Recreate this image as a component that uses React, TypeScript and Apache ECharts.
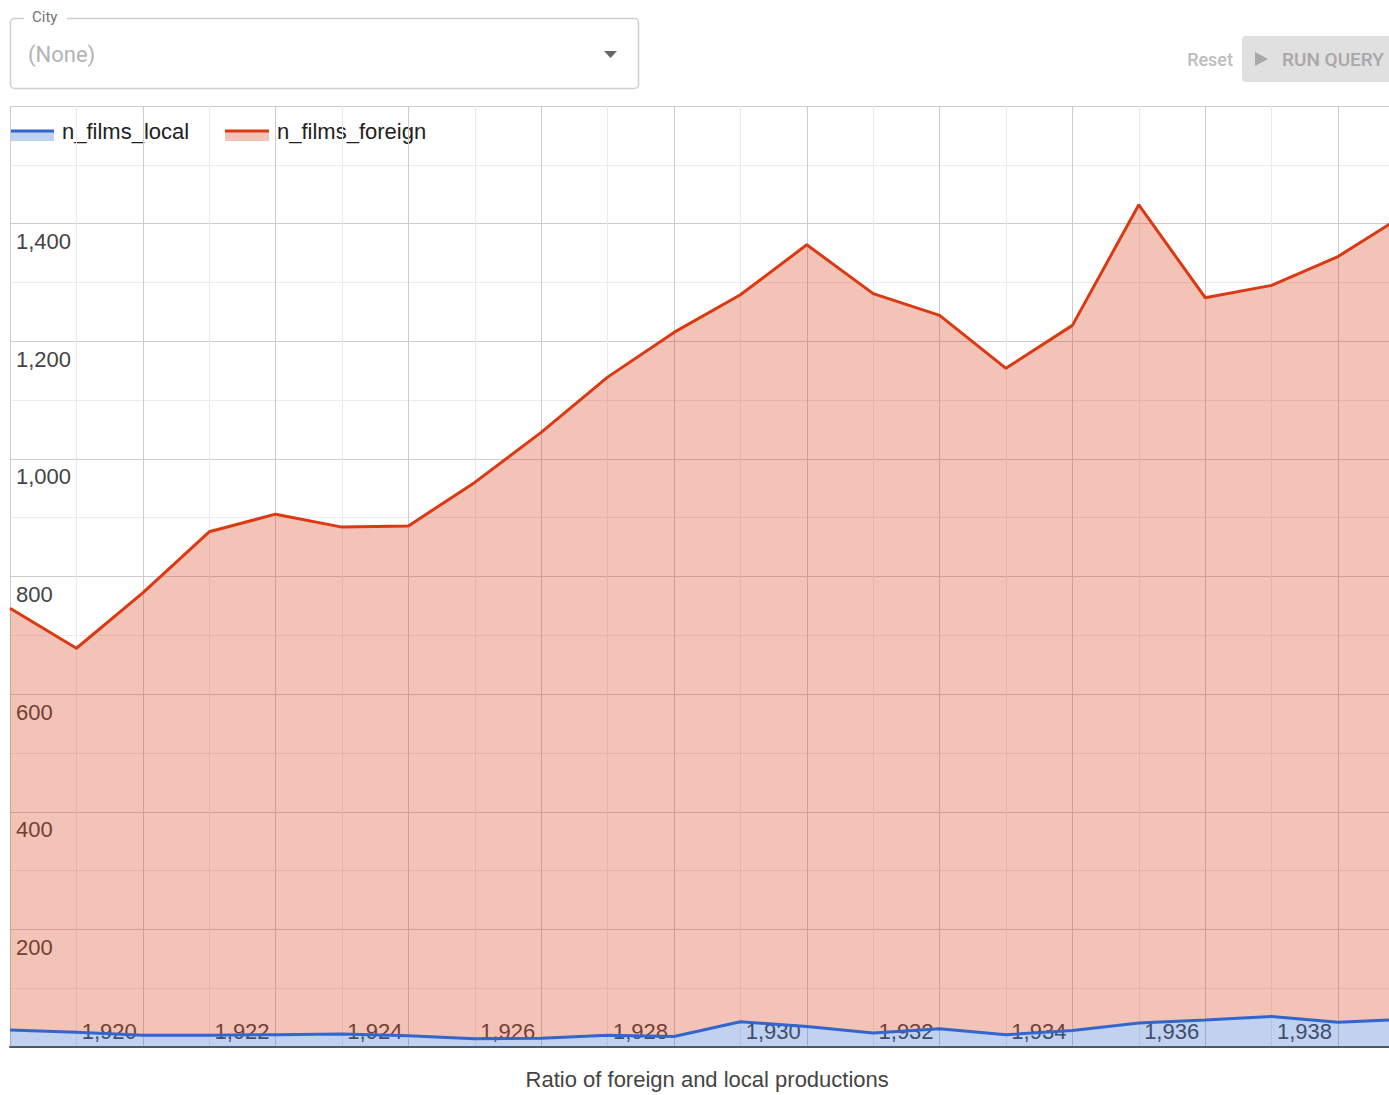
import React, { useEffect, useRef } from "react";
import * as echarts from "echarts";

const years = [1918, 1919, 1920, 1921, 1922, 1923, 1924, 1925, 1926, 1927, 1928, 1929, 1930, 1931, 1932, 1933, 1934, 1935, 1936, 1937, 1938, 1939];
const localFilms = [29, 25, 20, 20, 21, 22, 19, 14, 15, 20, 18, 43, 35, 24, 31, 21, 28, 41, 46, 52, 42, 47];
const foreignFilms = [717, 653, 752, 856, 885, 862, 867, 946, 1030, 1119, 1197, 1236, 1329, 1257, 1213, 1133, 1199, 1391, 1228, 1243, 1302, 1368];
const seriesNames = ["n_films_local", "n_films_foreign"];
const seriesColors = ["#3366cc", "#dc3912"];
const yTickLabels = [200, 400, 600, 800, 1000, 1200, 1400];
const xTickLabels = [1920, 1922, 1924, 1926, 1928, 1930, 1932, 1934, 1936, 1938];
const chartTitle = "Ratio of foreign and local productions";
const cityLabel = "City";
const cityValue = "(None)";
const resetLabel = "Reset";
const runLabel = "RUN QUERY";

const fmt = (v: number) => String(v).replace(/\B(?=(\d{3})+(?!\d))/g, ",");
const FONT = "'Liberation Sans', Arial, sans-serif";
const UI_FONT = "Roboto, 'Liberation Sans', sans-serif";

function hexToRgba(hex: string, a: number) {
  const n = parseInt(hex.slice(1), 16);
  return `rgba(${(n >> 16) & 255},${(n >> 8) & 255},${n & 255},${a})`;
}

export default function App() {
  const ref = useRef<HTMLDivElement>(null);
  useEffect(() => {
    if (!ref.current) return;
    const chart = echarts.init(ref.current, undefined, { renderer: "svg" });
    const labelStyle = {
      fontFamily: FONT,
      fontSize: 22,
      color: "#444",
      textBorderColor: "#ffffff",
      textBorderWidth: 3,
    };
    const legendItems: any[] = [];
    const legendX = [10, 225];
    seriesNames.forEach((name, i) => {
      const x = legendX[i];
      legendItems.push(
        { type: "rect", shape: { x, y: 131, width: 44, height: 10 }, style: { fill: hexToRgba(seriesColors[i], 0.3) } },
        { type: "line", shape: { x1: x, y1: 131, x2: x + 44, y2: 131 }, style: { stroke: seriesColors[i], lineWidth: 3 } },
        { type: "text", x: x + 52, y: 131, style: { text: name, fill: "#222", font: `22px ${FONT}`, verticalAlign: "middle" } }
      );
    });
    chart.setOption({
      animation: false,
      grid: { left: 10, top: 106, width: 1394.4, height: 943, containLabel: false },
      xAxis: {
        type: "category",
        boundaryGap: false,
        data: years.map(String),
        name: chartTitle,
        nameLocation: "middle",
        nameGap: 32,
        nameTextStyle: { fontFamily: FONT, fontSize: 22, color: "#444", verticalAlign: "middle" },
        axisLine: { show: true, onZero: true, lineStyle: { color: "#555", width: 2 } },
        axisTick: { show: false },
        axisLabel: {
          interval: 0,
          inside: true,
          margin: 16,
          verticalAlign: "middle",
          align: "right",
          padding: [0, 6, 0, 0],
          formatter: (v: string) => (xTickLabels.includes(Number(v)) ? fmt(Number(v)) : ""),
          ...labelStyle,
        },
        splitLine: { show: true, interval: 0, lineStyle: { color: ["#cccccc", "#ebebeb"], width: 1 } },
      },
      yAxis: {
        type: "value",
        min: 0,
        max: 1600,
        interval: 100,
        axisLine: { show: false },
        axisTick: { show: false },
        axisLabel: {
          inside: true,
          margin: 6,
          align: "left",
          verticalAlign: "top",
          lineHeight: 22,
          padding: [7, 0, 0, 0],
          showMinLabel: false,
          showMaxLabel: false,
          formatter: (v: number) => (yTickLabels.includes(v) ? fmt(v) : ""),
          ...labelStyle,
        },
        splitLine: { show: true, lineStyle: { color: ["#cccccc", "#ebebeb"], width: 1 } },
      },
      series: [
        {
          name: seriesNames[0],
          type: "line",
          stack: "total",
          symbol: "none",
          data: localFilms,
          lineStyle: { color: seriesColors[0], width: 3 },
          itemStyle: { color: seriesColors[0] },
          areaStyle: { color: seriesColors[0], opacity: 0.3 },
        },
        {
          name: seriesNames[1],
          type: "line",
          stack: "total",
          symbol: "none",
          data: foreignFilms,
          lineStyle: { color: seriesColors[1], width: 3 },
          itemStyle: { color: seriesColors[1] },
          areaStyle: { color: seriesColors[1], opacity: 0.3 },
        },
      ],
      graphic: [
        { type: "rect", shape: { x: 10.5, y: 18.5, width: 628, height: 70, r: 4 }, style: { fill: "#fff", stroke: "#cfcfcf", lineWidth: 1.5 } },
        { type: "rect", shape: { x: 24, y: 12, width: 43, height: 10 }, style: { fill: "#fff" } },
        { type: "text", x: 32, y: 17, style: { text: cityLabel, fill: "#757575", font: `15px ${UI_FONT}`, verticalAlign: "middle" } },
        { type: "text", x: 28, y: 54, style: { text: cityValue, fill: "#b3b3b3", font: `22px ${UI_FONT}`, verticalAlign: "middle" } },
        { type: "polygon", shape: { points: [[604, 51], [617, 51], [610.5, 58]] }, style: { fill: "#666" } },
        { type: "text", x: 1233, y: 59, style: { text: resetLabel, fill: "#bdbdbd", font: `500 18px ${UI_FONT}`, align: "right", verticalAlign: "middle" } },
        { type: "rect", shape: { x: 1242, y: 36, width: 200, height: 46, r: 4 }, style: { fill: "#e0e0e0" } },
        { type: "polygon", shape: { points: [[1255, 52], [1255, 66], [1268, 59]] }, style: { fill: "#a8a8a8" } },
        { type: "text", x: 1282, y: 59, style: { text: runLabel, fill: "#a8a8a8", font: `500 19px ${UI_FONT}`, verticalAlign: "middle" } },
        ...legendItems,
      ],
    });
    return () => chart.dispose();
  }, []);
  return (
    <div style={{ position: "fixed", left: 0, top: 0, width: 1389, height: 1095, overflow: "hidden", background: "#fff" }}>
      <div ref={ref} style={{ width: 1420, height: 1095 }} />
    </div>
  );
}
